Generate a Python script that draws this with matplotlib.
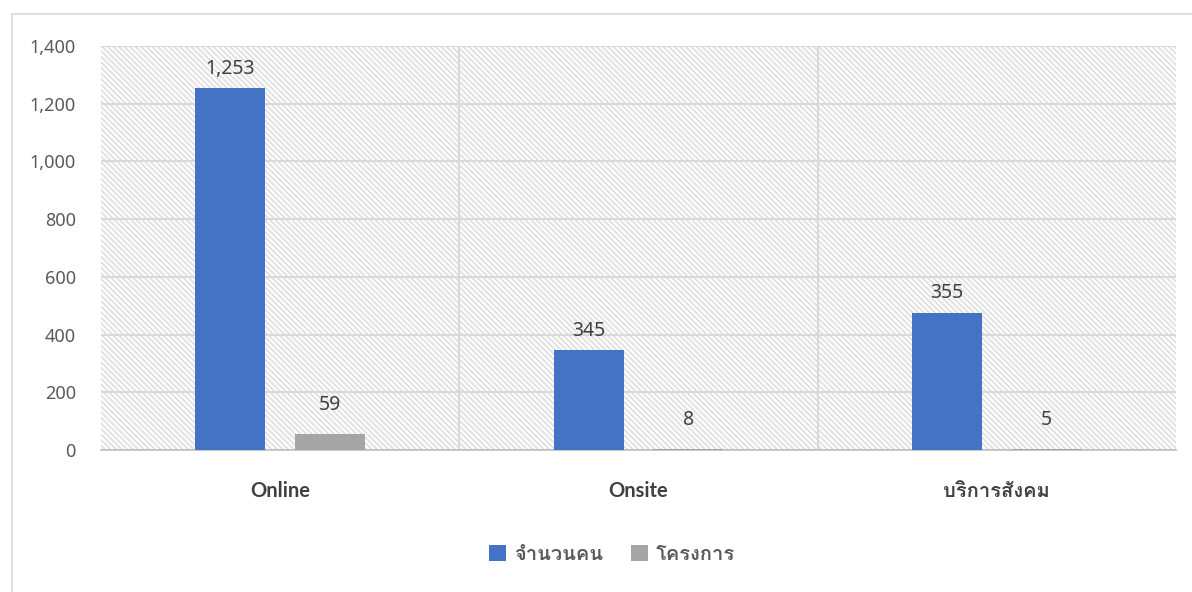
import matplotlib
matplotlib.use("Agg")
import matplotlib.pyplot as plt
from matplotlib import font_manager
from matplotlib.patches import Rectangle
import numpy as np

categories = ["Online", "Onsite", "บริการสังคม"]
series_names = ["จำนวนคน", "โครงการ"]
people = [1253, 345, 475]
people_labels = ["1,253", "345", "355"]
projects = [55, 3, 3]
project_labels = ["59", "8", "5"]
yticks = [0, 200, 400, 600, 800, 1000, 1200, 1400]

# find a font with Thai glyphs
thai_family = None
try:
    from matplotlib.ft2font import FT2Font
    for f in font_manager.fontManager.ttflist:
        try:
            cm = FT2Font(f.fname).get_charmap()
            if 0x0E08 in cm and 0x0E33 in cm:
                thai_family = f.name
                break
        except Exception:
            pass
except Exception:
    pass
fams = ["DejaVu Sans"] if thai_family is None else [thai_family, "DejaVu Sans"]
plt.rcParams["font.family"] = ["Noto Sans"] + fams
plt.rcParams["hatch.linewidth"] = 1.3
plt.rcParams["hatch.color"] = "#e0e0e0"

fig = plt.figure(figsize=(11.92, 5.92), dpi=100)
W, H = 1192, 592
ax = fig.add_axes([101 / W, 1 - 450 / H, (1176 - 101) / W, (450 - 46) / H])

# outer chart border
fig.patches.append(Rectangle((12 / W, -0.1), 1.2, 1 - 14 / H + 0.1, transform=fig.transFigure,
                             fill=False, edgecolor="#d9d9d9", linewidth=1.2))

x = np.arange(len(categories))
w = 0.195
off = 0.139
ax.set_xlim(-0.5, len(categories) - 0.5)
ax.set_ylim(0, 1400)

ax.add_patch(Rectangle((0, 0), 1, 1, transform=ax.transAxes, facecolor="white",
                       edgecolor="#e0e0e0", hatch="\\\\\\\\\\\\", linewidth=0, zorder=0))

b1 = ax.bar(x - off, people, width=w, color="#4472c4", zorder=3, label=series_names[0])
b2 = ax.bar(x + off, projects, width=w, color="#a5a5a5", zorder=3, label=series_names[1])

for xi, v, lab in zip(x - off, people, people_labels):
    ax.text(xi, v + 33, lab, ha="center", va="bottom", fontsize=14, color="#404040", zorder=4)
for xi, v, lab in zip(x + off, projects, project_labels):
    ax.text(xi, v + 66, lab, ha="center", va="bottom", fontsize=14, color="#404040", zorder=4)

ax.set_yticks(yticks)
ax.set_yticklabels([f"{t:,}" for t in yticks], fontsize=13, color="#595959")
ax.set_xticks(x)
ax.set_xticklabels(categories, fontsize=14.5, color="#404040", fontweight="bold",
                   family=["Lato"] + fams)
ax.tick_params(axis="both", length=0)
ax.tick_params(axis="y", pad=18)
ax.tick_params(axis="x", pad=22)
ax.grid(axis="y", color="#d9d9d9", linewidth=1.5, zorder=1)
ax.set_axisbelow(True)
for xb in [0.5, 1.5]:
    ax.axvline(xb, color="#d9d9d9", linewidth=1.5, zorder=1)
for s in ["top", "right", "left"]:
    ax.spines[s].set_visible(False)
ax.spines["bottom"].set_color("#bfbfbf")
ax.spines["bottom"].set_linewidth(1.2)

leg = fig.legend(handles=[b1, b2], labels=series_names, loc="center", bbox_to_anchor=(612 / W, 1 - 555 / H),
                 ncol=2, frameon=False, fontsize=14.5, handlelength=0.85, handleheight=0.85,
                 columnspacing=1.4, handletextpad=0.4)
for t in leg.get_texts():
    t.set_color("#595959")
    t.set_fontweight("bold")

fig.savefig("out.png", dpi=100)
